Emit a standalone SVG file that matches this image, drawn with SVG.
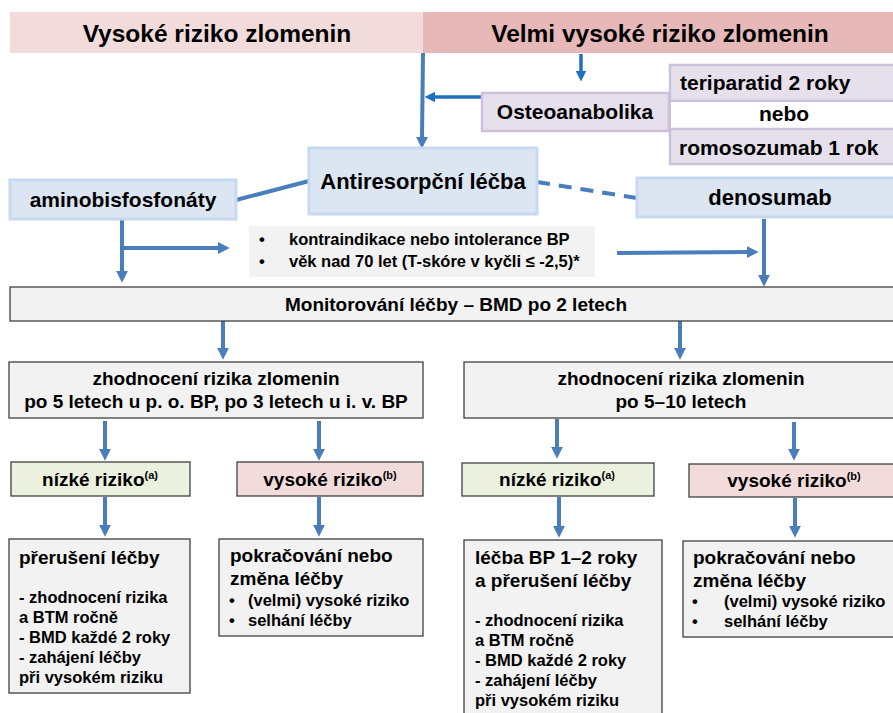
<svg xmlns="http://www.w3.org/2000/svg" width="893" height="713" viewBox="0 0 893 713">
<defs>
<style>
text{font-family:"Liberation Sans",Arial,sans-serif;font-weight:bold;fill:#000}
.c{text-anchor:middle}
.s{font-size:16.5px}
.blue{fill:#dce6f2;stroke:#c6d9f1;stroke-width:3}
.lav{fill:#e6e0ec;stroke:#ccc1da;stroke-width:2.5}
.gray{fill:#f2f2f2;stroke:#404040;stroke-width:1.3}
.con{fill:none;stroke:#4a7ebb;stroke-width:4}
.con2{fill:none;stroke:#1f70c1;stroke-width:3.5}
</style>
<marker id="ah" viewBox="0 0 10 10" refX="1" refY="5" markerWidth="3" markerHeight="3" orient="auto" markerUnits="strokeWidth"><path d="M0,0 L10,5 L0,10 z" fill="#4a7ebb"/></marker>
<marker id="ah2" viewBox="0 0 10 10" refX="1" refY="5" markerWidth="3" markerHeight="3" orient="auto" markerUnits="strokeWidth"><path d="M0,0 L10,5 L0,10 z" fill="#1f70c1"/></marker>
</defs>
<rect width="893" height="713" fill="#fff"/>

<g id="connectors">
<path class="con" d="M423,53 L422,138" marker-end="url(#ah)"/>
<path class="con2" d="M581,54 L581,72" marker-end="url(#ah2)"/>
<path class="con2" d="M482,97 L434,97" marker-end="url(#ah2)"/>
<path class="con" d="M236,200 L309,181"/>
<path class="con" d="M537,182 L637,198" stroke-dasharray="13,9"/>
<path class="con" d="M122,219 L122,272" marker-end="url(#ah)"/>
<path class="con" d="M122,248 L219,248" marker-end="url(#ah)"/>
<path class="con" d="M617,253 L748,252" marker-end="url(#ah)"/>
<path class="con" d="M764,219 L764,276" marker-end="url(#ah)"/>
<path class="con" d="M223,321 L223,349" marker-end="url(#ah)"/>
<path class="con" d="M680,321 L680,349" marker-end="url(#ah)"/>
<path class="con" d="M105,421 L105,450" marker-end="url(#ah)"/>
<path class="con" d="M319,421 L319,450" marker-end="url(#ah)"/>
<path class="con" d="M557,419 L557,448" marker-end="url(#ah)"/>
<path class="con" d="M794,422 L794,450" marker-end="url(#ah)"/>
<path class="con" d="M105,497 L105,526" marker-end="url(#ah)"/>
<path class="con" d="M319,497 L319,526" marker-end="url(#ah)"/>
<path class="con" d="M559,497 L559,527" marker-end="url(#ah)"/>
<path class="con" d="M795,498 L795,527" marker-end="url(#ah)"/>
</g>

<g id="header-high">
<rect x="10" y="12" width="413" height="41" fill="#f2dcdb"/>
<text class="c" x="217" y="42" font-size="24.5">Vysoké riziko zlomenin</text>
</g>
<g id="header-very-high">
<rect x="423" y="12" width="470" height="41" fill="#e6b9b8"/>
<text class="c" x="660" y="42" font-size="24.5">Velmi vysoké riziko zlomenin</text>
</g>

<g id="osteoanabolika">
<rect class="lav" x="482" y="93" width="187" height="38"/>
<text class="c" x="575" y="119" font-size="21">Osteoanabolika</text>
</g>
<g id="teriparatid">
<rect class="lav" x="670" y="65" width="230" height="36"/>
<text x="680" y="90" font-size="21">teriparatid 2 roky</text>
</g>
<g id="nebo">
<rect x="670" y="101" width="230" height="28" fill="#fff" stroke="#ccc1da" stroke-width="2"/>
<text class="c" x="784" y="121" font-size="21">nebo</text>
</g>
<g id="romosozumab">
<rect class="lav" x="670" y="129" width="230" height="35"/>
<text x="679" y="155" font-size="21">romosozumab 1 rok</text>
</g>

<g id="antiresorpcni">
<rect class="blue" x="309" y="148" width="228" height="66"/>
<text class="c" x="423" y="189" font-size="22">Antiresorpční léčba</text>
</g>
<g id="aminobisfosfonaty">
<rect class="blue" x="10" y="180" width="226" height="39"/>
<text class="c" x="123" y="207" font-size="21">aminobisfosfonáty</text>
</g>
<g id="denosumab">
<rect class="blue" x="637" y="178" width="262" height="39"/>
<text class="c" x="770" y="205" font-size="22">denosumab</text>
</g>

<g id="indications">
<rect x="249" y="226" width="346" height="51" fill="#f2f2f2"/>
<text class="s" x="259" y="245">•</text>
<text class="s" x="289" y="245">kontraindikace nebo intolerance BP</text>
<text class="s" x="259" y="267">•</text>
<text class="s" x="289" y="267">věk nad 70 let (T-skóre v kyčli ≤ -2,5)*</text>
</g>

<g id="monitorovani">
<rect class="gray" x="10" y="287" width="890" height="34"/>
<text class="c" x="456" y="311" font-size="19">Monitorování léčby – BMD po 2 letech</text>
</g>

<g id="zhodnoceni-bp">
<rect class="gray" x="9" y="362" width="414" height="56"/>
<text class="c" x="216" y="385" font-size="19">zhodnocení rizika zlomenin</text>
<text class="c" x="216" y="408" font-size="19">po 5 letech u p. o. BP, po 3 letech u i. v. BP</text>
</g>
<g id="zhodnoceni-dmab">
<rect class="gray" x="464" y="362" width="440" height="56"/>
<text class="c" x="681" y="385" font-size="19">zhodnocení rizika zlomenin</text>
<text class="c" x="681" y="408" font-size="19">po 5–10 letech</text>
</g>

<g id="nizke-1">
<rect class="gray" x="11" y="462" width="179" height="34" style="fill:#ebf1de"/>
<text class="c" x="100" y="486" font-size="19">nízké riziko<tspan font-size="11" dy="-7">(a)</tspan></text>
</g>
<g id="vysoke-1">
<rect class="gray" x="237" y="462" width="186" height="34" style="fill:#f2dcdb"/>
<text class="c" x="330" y="486" font-size="19">vysoké riziko<tspan font-size="11" dy="-7">(b)</tspan></text>
</g>
<g id="nizke-2">
<rect class="gray" x="462" y="463" width="192" height="33" style="fill:#ebf1de"/>
<text class="c" x="557" y="486" font-size="19">nízké riziko<tspan font-size="11" dy="-7">(a)</tspan></text>
</g>
<g id="vysoke-2">
<rect class="gray" x="689" y="464" width="210" height="33" style="fill:#f2dcdb"/>
<text class="c" x="794" y="487" font-size="19">vysoké riziko<tspan font-size="11" dy="-7">(b)</tspan></text>
</g>

<g id="preruseni">
<rect class="gray" x="9" y="539" width="181" height="154"/>
<text x="19" y="564" font-size="19">přerušení léčby</text>
<text class="s" x="19" y="603">- zhodnocení rizika</text>
<text class="s" x="19" y="623">a BTM ročně</text>
<text class="s" x="19" y="643">- BMD každé 2 roky</text>
<text class="s" x="19" y="663">- zahájení léčby</text>
<text class="s" x="19" y="683">při vysokém riziku</text>
</g>
<g id="pokracovani-1">
<rect class="gray" x="219" y="539" width="204" height="97"/>
<text x="230" y="562" font-size="19">pokračování nebo</text>
<text x="230" y="585" font-size="19">změna léčby</text>
<text class="s" x="229" y="606">•</text>
<text class="s" x="248" y="606">(velmi) vysoké riziko</text>
<text class="s" x="229" y="626">•</text>
<text class="s" x="248" y="626">selhání léčby</text>
</g>
<g id="lecba-bp">
<rect class="gray" x="464" y="540" width="198" height="185"/>
<text x="475" y="564" font-size="19">léčba BP 1–2 roky</text>
<text x="475" y="587" font-size="19">a přerušení léčby</text>
<text class="s" x="475" y="626">- zhodnocení rizika</text>
<text class="s" x="475" y="646">a BTM ročně</text>
<text class="s" x="475" y="666">- BMD každé 2 roky</text>
<text class="s" x="475" y="686">- zahájení léčby</text>
<text class="s" x="475" y="706">při vysokém riziku</text>
</g>
<g id="pokracovani-2">
<rect class="gray" x="683" y="541" width="215" height="96"/>
<text x="693" y="564" font-size="19">pokračování nebo</text>
<text x="693" y="587" font-size="19">změna léčby</text>
<text class="s" x="692" y="607">•</text>
<text class="s" x="724" y="607">(velmi) vysoké riziko</text>
<text class="s" x="692" y="627">•</text>
<text class="s" x="724" y="627">selhání léčby</text>
</g>
</svg>
